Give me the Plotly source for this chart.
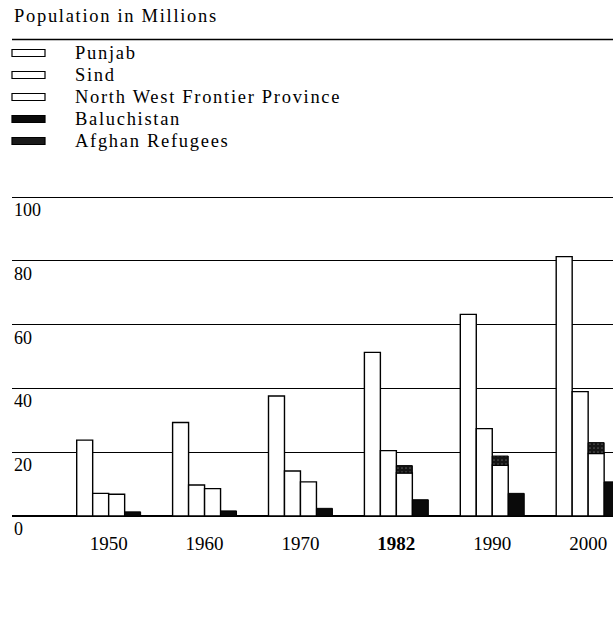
import plotly.graph_objects as go

# ---- data ----
years = ["1950", "1960", "1970", "1982", "1990", "2000"]
year_labels = ["1950", "1960", "1970", "<b>1982</b>", "1990", "2000"]
punjab = [23.8, 29.3, 37.6, 51.3, 63.2, 81.3]
sind = [7.1, 9.7, 14.1, 20.5, 27.4, 39.0]
nwfp = [6.8, 8.6, 10.7, 13.5, 15.9, 19.6]
baluchistan = [1.3, 1.6, 2.4, 5.1, 7.1, 10.7]
afghan_refugees = [None, None, None, 2.3, 2.9, 3.4]
series_names = ["Punjab", "Sind", "North West Frontier Province", "Baluchistan", "Afghan Refugees"]
y_ticks = [0, 20, 40, 60, 80, 100]
title_text = "Population in Millions"

# ---- layout geometry (pixels) ----
W, H = 613, 640
L, R, T, B = 12, 0, 194, 123
PW, PH = W - L - R, H - T - B
FONT = "Liberation Serif"


def px_x(p):
    return (p - L) / PW


def px_y(p):
    return (H - B - p) / PH


line = dict(color="black", width=1.4)
fig = go.Figure()
fig.add_bar(x=years, y=punjab, name=series_names[0], offsetgroup="p",
            marker=dict(color="white", line=line))
fig.add_bar(x=years, y=sind, name=series_names[1], offsetgroup="s",
            marker=dict(color="white", line=line))
fig.add_bar(x=years, y=nwfp, name=series_names[2], offsetgroup="n",
            marker=dict(color="white", line=line))
fig.add_bar(x=years, y=baluchistan, name=series_names[3], offsetgroup="b",
            marker=dict(color="#0a0a0a", line=dict(color="black", width=1)))
fig.add_bar(x=years, y=afghan_refugees, base=nwfp, name=series_names[4], offsetgroup="n",
            marker=dict(color="#151515", line=dict(color="black", width=1),
                        pattern=dict(shape=".", fgcolor="#9a9a9a", bgcolor="#151515",
                                     size=4, solidity=0.15)))

annotations = []
shapes = []
# title and rule
annotations.append(dict(text=title_text, xref="paper", yref="paper", x=0, y=px_y(16),
                        xanchor="left", yanchor="middle", showarrow=False,
                        font=dict(family=FONT, size=18.5, color="black")))
shapes.append(dict(type="line", xref="paper", yref="paper", x0=0, x1=1,
                   y0=px_y(39.5), y1=px_y(39.5), line=dict(color="black", width=1.3)))
# legend
rows = [53, 75, 97, 119, 141]
fills = ["white", "white", "white", "#0a0a0a", "#1a1a1a"]
for name, r, f in zip(series_names, rows, fills):
    shapes.append(dict(type="rect", xref="paper", yref="paper",
                       x0=px_x(12), x1=px_x(45), y0=px_y(r + 3.5), y1=px_y(r - 3.5),
                       fillcolor=f, line=dict(color="black", width=1.2)))
    annotations.append(dict(text=name, xref="paper", yref="paper", x=px_x(73), y=px_y(r),
                            xanchor="left", yanchor="middle", showarrow=False,
                            font=dict(family=FONT, size=18.5, color="black")))
# y tick labels placed under gridlines
for t in y_ticks:
    annotations.append(dict(text=str(t), xref="paper", yref="y", x=0, y=t,
                            xanchor="left", yanchor="top", yshift=-1, showarrow=False,
                            font=dict(family=FONT, size=18, color="black")))

fig.update_layout(
    width=W, height=H,
    margin=dict(l=L, r=R, t=T, b=B),
    paper_bgcolor="white", plot_bgcolor="white",
    barmode="group", bargap=1/3, bargroupgap=0,
    showlegend=False,
    font=dict(family=FONT, color="black"),
    annotations=annotations, shapes=shapes,
    xaxis=dict(type="category", range=[-1.008, 5.259], tickvals=years, ticktext=year_labels,
               showgrid=False, zeroline=False, showline=False, ticks="",
               tickfont=dict(family=FONT, size=19, color="black"), ticklabelstandoff=13),
    yaxis=dict(range=[-0.31, 100.94], tickvals=y_ticks, showticklabels=False,
               showgrid=True, gridcolor="black", gridwidth=1.2, zeroline=True,
               zerolinecolor="black", zerolinewidth=2, showline=False),
)

post = """
document.body.style.margin = '0';
document.querySelectorAll('.annotation-text').forEach(function (t) {
  if (/[A-Za-z]/.test(t.textContent)) {
    var bb = t.getBBox();
    t.style.letterSpacing = '1.7px';
    t.style.textAnchor = 'start';
    t.setAttribute('text-anchor', 'start');
    t.setAttribute('x', bb.x);
    t.querySelectorAll('tspan[x]').forEach(function (s) { s.setAttribute('x', bb.x); });
  }
});
"""
fig.write_html("out.html", post_script=post, config={"displayModeBar": False})
